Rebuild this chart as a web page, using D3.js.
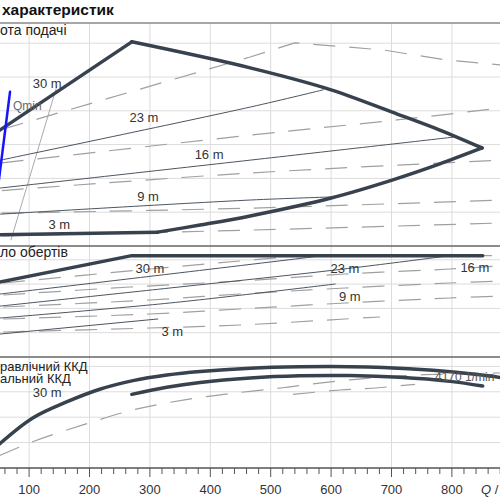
<!DOCTYPE html>
<html>
<head>
<meta charset="utf-8">
<script src="https://cdn.jsdelivr.net/npm/d3@7"></script>
<style>
body { margin: 0; background: #fff; }
svg { display: block; font-family: 'Liberation Sans', Arial, sans-serif; }
</style>
</head>
<body>
<script>
// Q axis
let qTicks = [100, 200, 300, 400, 500, 600, 700, 800];
let qMinor = d3.range(0, 901, 20);

// head panel (m)
let headGrid = [10, 20, 30, 40, 50, 60];
let headLeft = [[50, 34.1], [270, 60.4]];
let headTop = [[270, 60.4], [466, 52.7], [600, 46.2], [701, 39.6], [780, 34.3], [850, 29.0]];
let headLow = [[850, 29.0], [780, 24.3], [701, 19.5], [600, 14.2], [466, 8.9], [383, 6.2], [313, 4.1]];
let headBottom = [[313, 4.1], [50, 3.3]];
let head23 = [[50, 25.3], [466, 41.1], [587, 46.2]];
let head16 = [[50, 17.1], [466, 25.4], [802, 32.2]];
let head9 = [[50, 9.4], [466, 13.6], [600, 14.5]];
let headDash1 = [[55, 34.5], [466, 55.9], [540, 60.1], [686, 58.0], [791, 55.0], [880, 53.6]];
let headDash2 = [[55, 24.6], [466, 32.8], [709, 37.3], [880, 40.8]];
let headDash3 = [[55, 16.4], [466, 21.6], [880, 25.4]];
let headDash4 = [[55, 9.7], [466, 11.2], [880, 13.6]];
let headDash5 = [[55, 3.0], [466, 4.7], [880, 6.8]];
let qminLine = [[68.4, 45.6], [50, 19.5]];
let qminAux = [[146, 47.3], [70, 1.8]];
let headLabels = ['30 m', '23 m', '16 m', '9 m', '3 m'];
let headLabelQ = [130, 290, 398, 297, 150];
let headLabelH = [48.2, 37.9, 27.2, 14.8, 6.5];

// speed panel (1/min)
let speedGrid = [1000, 2000, 3000, 4000];
let speedMax = [[50, 3076], [270, 4170], [851, 4170]];
let speed1 = [[50, 2585], [333, 3415], [568, 4115], [585, 4170]];
let speed2 = [[50, 2090], [333, 2839], [607, 3580], [797, 4170]];
let speed3 = [[50, 1600], [333, 2222], [607, 3004]];
let speed4 = [[50, 940], [313, 1564]];
let speedDashA = [[57, 3045], [300, 3621], [449, 3950], [548, 4156], [565, 4170], [880, 4170]];
let speedDashB = [[57, 2551], [267, 2880], [449, 3127], [623, 3415], [797, 3621], [880, 3745]];
let speedDashC = [[57, 2058], [300, 2346], [449, 2592], [623, 2839], [797, 3045], [880, 3127]];
let speedDashD = [[57, 1564], [300, 1769], [449, 1975], [623, 2222], [797, 2428], [880, 2510]];
let speedDashE = [[57, 1029], [300, 1193], [449, 1317], [623, 1564], [681, 1646]];
let speedLabels = ['30 m', '23 m', '16 m', '9 m', '3 m'];
let speedLabelQ = [300, 623, 838, 631, 337];
let speedLabelN = [3662, 3662, 3703, 2510, 1041];

// efficiency panel (%)
let etaGrid = [20, 40, 60, 80];
let etaHyd = [[50, 18.5], [106, 39.4], [163, 52.2], [217, 62.0], [272, 68.8], [328, 73.2], [383, 76.0], [466, 78.6], [548, 79.7], [631, 79.8], [686, 79.2], [769, 76.9], [846, 73.4], [880, 71.3]];
let etaTot = [[270, 58.0], [328, 63.6], [383, 67.4], [466, 70.9], [548, 72.6], [631, 72.8], [714, 71.4], [797, 68.2], [851, 64.5]];
let etaDash1 = [[50, 9.5], [106, 20.7], [189, 33.9], [272, 45.7], [355, 53.5], [437, 58.8], [520, 63.2], [577, 66.7], [659, 70.6], [742, 73.2], [797, 74.0], [880, 74.8]];
let etaDash2 = [[537, 58.0], [615, 61.4], [678, 63.2], [739, 65.9]];

let width = 500, height = 500;
let thick = '#37424e', thin = '#4b5561', dashCol = '#a0a0a0', gridCol = '#dcdcdc';

let svg = d3.select('body').append('svg').attr('width', width).attr('height', height);

let x = d3.scaleLinear().domain([0, 900]).range([-31.3, 512.3]);
let yH = d3.scaleLinear().domain([0, 66]).range([246, 22.9]);
let yN = d3.scaleLinear().domain([0, 4600]).range([357, 245.2]);
let yE = d3.scaleLinear().domain([0, 87.4]).range([468, 357]);

// title
svg.append('text').attr('x', 2).attr('y', 15).attr('font-size', 15.5).attr('font-weight', 'bold').attr('fill', '#111').text('характеристик');

// vertical grid through all panels
svg.append('g').selectAll('line').data(qTicks).enter().append('line')
  .attr('x1', d => x(d)).attr('x2', d => x(d)).attr('y1', yH.range()[1]).attr('y2', yE(0))
  .attr('stroke', gridCol).attr('stroke-width', 1);

function hgrid(scale, vals) {
  svg.append('g').selectAll('line').data(vals).enter().append('line')
    .attr('x1', 0).attr('x2', width).attr('y1', d => scale(d)).attr('y2', d => scale(d))
    .attr('stroke', gridCol).attr('stroke-width', 1);
}
hgrid(yH, headGrid);
hgrid(yN, speedGrid);
hgrid(yE, etaGrid);

// panel frames
svg.append('line').attr('x1', 0).attr('x2', width).attr('y1', yH(66)).attr('y2', yH(66)).attr('stroke', '#888').attr('stroke-width', 1.5);
svg.append('line').attr('x1', 0).attr('x2', width).attr('y1', yH(0)).attr('y2', yH(0)).attr('stroke', '#666').attr('stroke-width', 1.5);
svg.append('line').attr('x1', 0).attr('x2', width).attr('y1', yN(0)).attr('y2', yN(0)).attr('stroke', '#666').attr('stroke-width', 1.5);
svg.append('line').attr('x1', 0).attr('x2', width).attr('y1', yE(0)).attr('y2', yE(0)).attr('stroke', '#555').attr('stroke-width', 1.5);

function drawLine(scale, data, opt) {
  let line = d3.line().x(d => x(d[0])).y(d => scale(d[1])).curve(opt.curve || d3.curveCatmullRom.alpha(0.5));
  let p = svg.append('path').datum(data).attr('d', line).attr('fill', 'none')
    .attr('stroke', opt.color).attr('stroke-width', opt.w)
    .attr('stroke-linecap', 'round').attr('stroke-linejoin', 'round');
  if (opt.dash) p.attr('stroke-dasharray', opt.dash).attr('stroke-linecap', 'butt');
  return p;
}

let dashed = {color: dashCol, w: 1.2, dash: '22,14'};
let solid = {color: thin, w: 1};
let heavy = {color: thick, w: 3.5};

// head panel
drawLine(yH, headDash1, {color: dashCol, w: 1.2, dash: '22,14', curve: d3.curveLinear});
[headDash2, headDash3, headDash4, headDash5].forEach(d => drawLine(yH, d, dashed));
drawLine(yH, qminAux, {color: '#aaa', w: 1, curve: d3.curveLinear});
[head23, head16, head9].forEach(d => drawLine(yH, d, solid));
drawLine(yH, headLeft, {color: thick, w: 3.5, curve: d3.curveLinear});
drawLine(yH, headTop, heavy);
drawLine(yH, headLow, heavy);
drawLine(yH, headBottom, {color: thick, w: 3.5, curve: d3.curveLinear});
drawLine(yH, qminLine, {color: '#1414ff', w: 2.5, curve: d3.curveLinear});

function labels(scale, texts, qs, vs) {
  svg.append('g').selectAll('text').data(texts).enter().append('text')
    .attr('x', (d, i) => x(qs[i])).attr('y', (d, i) => scale(vs[i]))
    .attr('dy', '0.35em').attr('text-anchor', 'middle')
    .attr('font-size', 13).attr('fill', '#333').text(d => d);
}
labels(yH, headLabels, headLabelQ, headLabelH);
svg.append('text').attr('x', x(73.3)).attr('y', yH(41.4)).attr('dy', '0.35em')
  .attr('font-size', 12).attr('fill', '#666').text('Qmin');
svg.append('text').attr('x', x(51.8)).attr('y', yH(62.4))
  .attr('font-size', 14).attr('fill', '#222').text('ота подачі');

// speed panel
[speedDashA, speedDashB, speedDashC, speedDashD, speedDashE].forEach(d => drawLine(yN, d, dashed));
[speed1, speed2, speed3, speed4].forEach(d => drawLine(yN, d, solid));
drawLine(yN, speedMax, {color: thick, w: 3.5, curve: d3.curveLinear});
labels(yN, speedLabels, speedLabelQ, speedLabelN);
svg.append('text').attr('x', x(51.8)).attr('y', yN(4115))
  .attr('font-size', 14).attr('fill', '#222').text('ло обертів');

// efficiency panel
[etaDash1, etaDash2].forEach(d => drawLine(yE, d, dashed));
drawLine(yE, etaHyd, heavy);
drawLine(yE, etaTot, heavy);
svg.append('text').attr('x', x(51.8)).attr('y', yE(76.4))
  .attr('font-size', 13).attr('fill', '#222').text('равлічний ККД');
svg.append('text').attr('x', x(51.8)).attr('y', yE(66.9))
  .attr('font-size', 13).attr('fill', '#222').text('альний ККД');
svg.append('text').attr('x', x(130)).attr('y', yE(55.9)).attr('text-anchor', 'middle')
  .attr('font-size', 13).attr('fill', '#333').text('30 m');
svg.append('text').attr('x', x(772)).attr('y', yE(68.5))
  .attr('font-size', 12).attr('fill', '#555').text('4170 1/min');

// Q axis ticks
svg.append('g').selectAll('line').data(qMinor).enter().append('line')
  .attr('x1', d => x(d)).attr('x2', d => x(d)).attr('y1', yE(0))
  .attr('y2', d => yE(0) + (d % 100 === 0 ? 9 : 6))
  .attr('stroke', '#555').attr('stroke-width', 1);
svg.append('g').selectAll('text').data(qTicks).enter().append('text')
  .attr('x', d => x(d)).attr('y', 494).attr('text-anchor', 'middle')
  .attr('font-size', 13).attr('fill', '#333').text(d => d);
let qt = svg.append('text').attr('x', 481).attr('y', 494).attr('font-size', 13).attr('fill', '#333');
qt.append('tspan').attr('font-style', 'italic').text('Q');
qt.append('tspan').text(' /');
</script>
</body>
</html>
